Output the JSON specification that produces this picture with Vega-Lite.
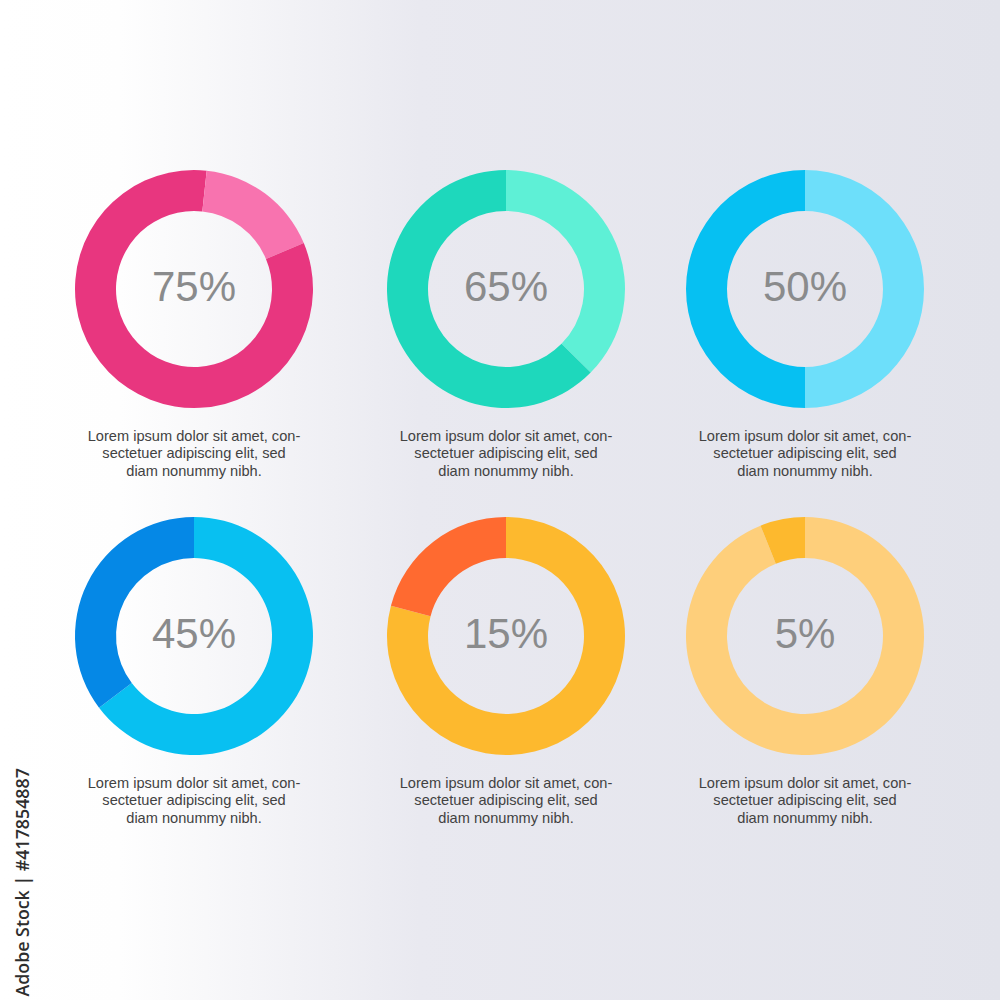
{
  "$schema": "https://vega.github.io/schema/vega-lite/v6.json",
  "width": 1000,
  "height": 1000,
  "autosize": {"type": "none"},
  "padding": 0,
  "background": "#F0F0F4",
  "config": {
    "view": {
      "stroke": null,
      "fill": {
        "gradient": "linear",
        "x1": 0, "y1": 0, "x2": 1, "y2": 0,
        "stops": [
          {"offset": 0, "color": "#FFFFFF"},
          {"offset": 0.12, "color": "#FEFEFE"},
          {"offset": 0.42, "color": "#E9E9F0"},
          {"offset": 1, "color": "#E2E3EB"}
        ]
      }
    }
  },
  "datasets": {
    "segments": [
      {"chart": "c1", "row": 0, "col": 0, "seq": 1, "part": "c1 main", "share": 1.7},
      {"chart": "c1", "row": 0, "col": 0, "seq": 2, "part": "c1 accent", "share": 17.0},
      {"chart": "c1", "row": 0, "col": 0, "seq": 3, "part": "c1 main", "share": 81.3},
      {"chart": "c2", "row": 0, "col": 1, "seq": 1, "part": "c2 accent", "share": 37.4},
      {"chart": "c2", "row": 0, "col": 1, "seq": 2, "part": "c2 main", "share": 62.6},
      {"chart": "c3", "row": 0, "col": 2, "seq": 1, "part": "c3 accent", "share": 50},
      {"chart": "c3", "row": 0, "col": 2, "seq": 2, "part": "c3 main", "share": 50},
      {"chart": "c4", "row": 1, "col": 0, "seq": 1, "part": "c4 main", "share": 64.7},
      {"chart": "c4", "row": 1, "col": 0, "seq": 2, "part": "c4 accent", "share": 35.3},
      {"chart": "c5", "row": 1, "col": 1, "seq": 1, "part": "c5 main", "share": 79.1},
      {"chart": "c5", "row": 1, "col": 1, "seq": 2, "part": "c5 accent", "share": 20.9},
      {"chart": "c6", "row": 1, "col": 2, "seq": 1, "part": "c6 main", "share": 93.9},
      {"chart": "c6", "row": 1, "col": 2, "seq": 2, "part": "c6 accent", "share": 6.1}
    ],
    "labels": [
      {"chart": "c1", "row": 0, "col": 0, "pct": "75%", "caption": "Lorem ipsum dolor sit amet, con-\nsectetuer adipiscing elit, sed\ndiam nonummy nibh."},
      {"chart": "c2", "row": 0, "col": 1, "pct": "65%", "caption": "Lorem ipsum dolor sit amet, con-\nsectetuer adipiscing elit, sed\ndiam nonummy nibh."},
      {"chart": "c3", "row": 0, "col": 2, "pct": "50%", "caption": "Lorem ipsum dolor sit amet, con-\nsectetuer adipiscing elit, sed\ndiam nonummy nibh."},
      {"chart": "c4", "row": 1, "col": 0, "pct": "45%", "caption": "Lorem ipsum dolor sit amet, con-\nsectetuer adipiscing elit, sed\ndiam nonummy nibh."},
      {"chart": "c5", "row": 1, "col": 1, "pct": "15%", "caption": "Lorem ipsum dolor sit amet, con-\nsectetuer adipiscing elit, sed\ndiam nonummy nibh."},
      {"chart": "c6", "row": 1, "col": 2, "pct": "5%", "caption": "Lorem ipsum dolor sit amet, con-\nsectetuer adipiscing elit, sed\ndiam nonummy nibh."}
    ]
  },
  "encoding": {
    "x": {
      "field": "col", "type": "quantitative",
      "scale": {"domain": [0, 1, 2], "range": [194, 506, 805], "zero": false, "nice": false},
      "axis": null
    },
    "y": {
      "field": "row", "type": "quantitative",
      "scale": {"domain": [0, 1], "range": [289, 636], "zero": false, "nice": false},
      "axis": {
        "title": "Adobe Stock | #417854887",
        "titleX": 23,
        "titleY": 996,
        "titleAngle": 270,
        "titleAlign": "left",
        "titleBaseline": "middle",
        "titleFont": "Open Sans",
        "titleFontWeight": 600,
        "titleFontSize": 17.8,
        "titleColor": "#2E2E2E",
        "labels": false,
        "ticks": false,
        "domain": false,
        "grid": false
      }
    }
  },
  "layer": [
    {
      "data": {"name": "segments"},
      "transform": [
        {"stack": "share", "groupby": ["chart"], "sort": [{"field": "seq", "order": "ascending"}], "as": ["t0", "t1"]}
      ],
      "mark": {"type": "arc", "radius": 119, "radius2": 78, "stroke": null},
      "encoding": {
        "theta": {"field": "t0", "type": "quantitative", "scale": {"domain": [0, 100], "range": [0, 6.283185307179586]}},
        "theta2": {"field": "t1"},
        "color": {
          "field": "part", "type": "nominal", "legend": null,
          "scale": {
            "domain": ["c1 main", "c1 accent", "c2 main", "c2 accent", "c3 main", "c3 accent", "c4 main", "c4 accent", "c5 main", "c5 accent", "c6 main", "c6 accent"],
            "range": ["#E8367F", "#F873AF", "#1ED8BC", "#5EF0D6", "#06C0F2", "#6DDFFA", "#08C0F1", "#0588E6", "#FDB92E", "#FF6A30", "#FECF7B", "#FDB92E"]
          }
        }
      }
    },
    {
      "data": {"name": "labels"},
      "mark": {"type": "text", "font": "Liberation Sans", "fontSize": 42, "color": "#8A8B8C", "align": "center", "baseline": "middle", "dy": -1.5},
      "encoding": {"text": {"field": "pct"}}
    },
    {
      "data": {"name": "labels"},
      "mark": {"type": "text", "font": "Liberation Sans", "fontSize": 14.6, "color": "#424242", "align": "center", "baseline": "middle", "lineBreak": "\n", "lineHeight": 17.5, "dy": 147.5},
      "encoding": {"text": {"field": "caption"}}
    }
  ]
}
